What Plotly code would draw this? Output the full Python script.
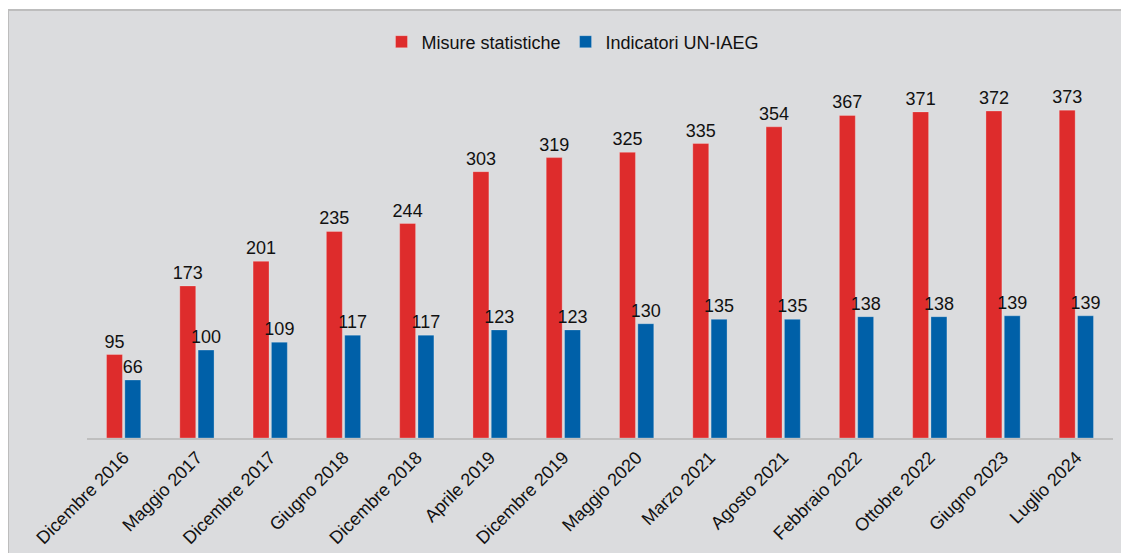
import plotly.graph_objects as go

categories = ["Dicembre 2016", "Maggio 2017", "Dicembre 2017", "Giugno 2018", "Dicembre 2018",
              "Aprile 2019", "Dicembre 2019", "Maggio 2020", "Marzo 2021", "Agosto 2021",
              "Febbraio 2022", "Ottobre 2022", "Giugno 2023", "Luglio 2024"]
misure = [95, 173, 201, 235, 244, 303, 319, 325, 335, 354, 367, 371, 372, 373]
indicatori = [66, 100, 109, 117, 117, 123, 123, 130, 135, 135, 138, 138, 139, 139]

RED = "#DE2C2C"
BLUE = "#0060A8"
FONT = "Liberation Sans, Arial, sans-serif"
TXT = "#111111"

fig = go.Figure()
fig.add_trace(go.Bar(x=categories, y=misure, name="Misure statistiche",
                     marker=dict(color=RED, line=dict(color="rgba(255,255,255,0.25)", width=1)),
                     text=misure, textposition="outside", cliponaxis=False, constraintext="none",
                     textfont=dict(size=18, color=TXT, family=FONT)))
fig.add_trace(go.Bar(x=categories, y=indicatori, name="Indicatori UN-IAEG",
                     marker=dict(color=BLUE, line=dict(color="rgba(255,255,255,0.25)", width=1)),
                     text=indicatori, textposition="outside", cliponaxis=False, constraintext="none",
                     textfont=dict(size=18, color=TXT, family=FONT)))

# figure is placed at (8, 8) in the page (body margin)
W, H = 1121, 545
L, R, T, B = 79, 16, 52, 115
pw, ph = W - L - R, H - T - B

def px2x(px):
    return (px - L) / pw

def py2y(py):
    return (H - B - py) / ph

fig.add_shape(type="rect", xref="paper", yref="paper",
              x0=px2x(0), x1=px2x(1130), y0=py2y(560), y1=py2y(2),
              fillcolor="#DBDCDE", line=dict(color="#BDBDBD", width=2), layer="below")

fig.update_layout(
    width=W, height=H,
    margin=dict(l=L, r=R, t=T, b=B, autoexpand=False),
    paper_bgcolor="white",
    plot_bgcolor="rgba(0,0,0,0)",
    barmode="group", bargap=0.5, bargroupgap=0.13,
    font=dict(family=FONT, size=18, color=TXT),
    showlegend=True,
    legend=dict(orientation="h", x=px2x(565), xanchor="center", y=py2y(34), yanchor="middle",
                font=dict(size=18, family=FONT, color=TXT),
                bgcolor="rgba(0,0,0,0)", itemwidth=30),
    xaxis=dict(tickangle=-45, showline=True, linecolor="#BFBFBF", linewidth=2,
               showgrid=False, ticks="", automargin=False,
               tickfont=dict(size=18, family=FONT, color=TXT)),
    yaxis=dict(range=[0, ph / 0.879], visible=False, showgrid=False, zeroline=False,
               automargin=False),
)

fig.write_html("out.html")
